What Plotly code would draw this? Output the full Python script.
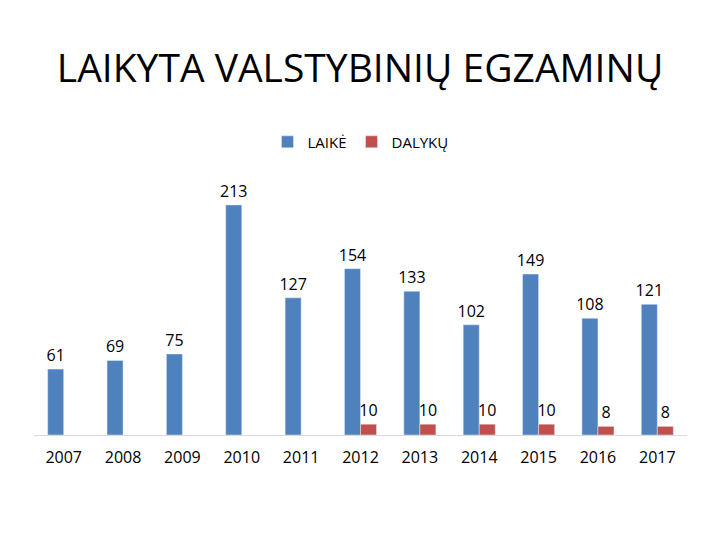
import plotly.graph_objects as go

years = ["2007", "2008", "2009", "2010", "2011", "2012", "2013", "2014", "2015", "2016", "2017"]
laike = [61, 69, 75, 213, 127, 154, 133, 102, 149, 108, 121]
dalyku = [None, None, None, None, None, 10, 10, 10, 10, 8, 8]

fnt = "Open Sans"

fig = go.Figure()
fig.add_trace(go.Bar(
    x=years, y=laike, name="LAIKĖ",
    marker_color="#4F81BD",
    text=laike, textposition="outside", cliponaxis=False, constraintext="none",
    textfont=dict(size=16, color="#000000", family=fnt),
))
fig.add_trace(go.Bar(
    x=years, y=dalyku, name="DALYKŲ",
    marker_color="#C0504D",
    text=[str(v) if v is not None else "" for v in dalyku],
    textposition="outside", cliponaxis=False, constraintext="none",
    textfont=dict(size=16, color="#000000", family=fnt),
))

fig.update_layout(
    width=720, height=540,
    margin=dict(l=26, r=41, t=157, b=113, autoexpand=False),
    paper_bgcolor="white", plot_bgcolor="white",
    barmode="group", bargap=0.46, bargroupgap=0.0,
    font=dict(family=fnt, size=14, color="#000000"),
    title=dict(
        text="LAIKYTA VALSTYBINIŲ EGZAMINŲ",
        x=0.489, xanchor="center", y=0.889, yanchor="middle",
        font=dict(family=fnt, size=39, color="#000000"),
    ),
    legend=dict(
        orientation="h", x=0.5, xanchor="center", y=1.085, yanchor="middle",
        font=dict(size=15, family=fnt), itemwidth=30,
    ),
    xaxis=dict(
        showgrid=False, showline=True, linecolor="#D9D9D9", linewidth=1,
        ticks="", tickfont=dict(size=16, family=fnt), automargin=False,
        ticklabelstandoff=8,
    ),
    yaxis=dict(
        range=[0, 250], showgrid=False, showticklabels=False,
        zeroline=False, showline=False, automargin=False,
    ),
)

fig.write_html("out.html")
